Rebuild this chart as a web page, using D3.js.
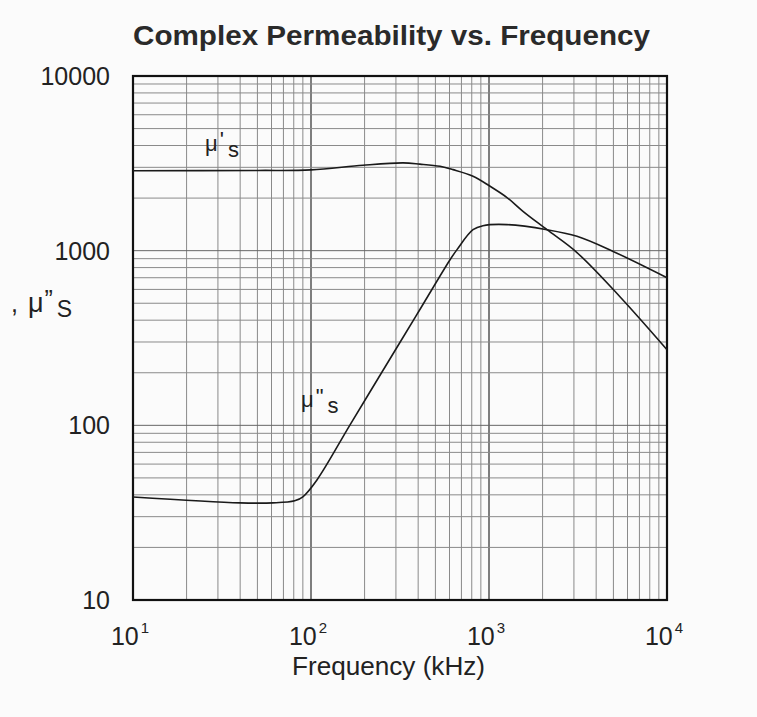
<!DOCTYPE html>
<html><head><meta charset="utf-8">
<script src="https://cdn.jsdelivr.net/npm/d3@7"></script>
<style>
html,body{margin:0;padding:0;background:#fbfbfb;}
svg{display:block;font-family:Arial,"Liberation Sans",sans-serif;}
</style></head>
<body><svg id="c" width="757" height="717"></svg>
<script>
// ---- data ----
const titleText = "Complex Permeability vs. Frequency";
const xLabelText = "Frequency (kHz)";
const xTickExponents = [1, 2, 3, 4];
const yTickValues = [10, 100, 1000, 10000];
const freqReal = [10, 50, 100, 196, 329, 409, 531, 628, 813, 1014, 1262, 1552, 2118, 3120, 5440, 10000];
const muReal   = [2870, 2880, 2900, 3085, 3180, 3130, 3040, 2910, 2667, 2337, 2015, 1680, 1318, 975, 545, 271];
const freqImag = [10, 40, 61, 81, 90, 108, 166, 255, 393, 604, 661, 813, 925, 1262, 2118, 3120, 4980, 10000];
const muImag   = [38.9, 36, 36, 37, 39, 48.7, 101, 208, 430, 887, 1014, 1318, 1390, 1410, 1318, 1208, 990, 700];

// ---- layout ----
const L = 133, R = 667, T = 76, B = 600;
const svg = d3.select("#c");
const x = d3.scaleLog().domain([10, 10000]).range([L, R]);
const y = d3.scaleLog().domain([10, 10000]).range([B, T]);

// grid
const gridVals = [];
[10, 100, 1000].forEach(d => { for (let k = 1; k <= 9; k++) gridVals.push(d * k); });
gridVals.push(10000);
const isMajor = d => Math.abs(Math.log10(d) - Math.round(Math.log10(d))) < 1e-9;
const g = svg.append("g");
g.selectAll("line.v").data(gridVals).enter().append("line")
  .attr("x1", d => x(d)).attr("x2", d => x(d)).attr("y1", T).attr("y2", B)
  .attr("stroke", d => isMajor(d) ? "#555" : "#8a8a8a")
  .attr("stroke-width", d => isMajor(d) ? 1.5 : 1);
g.selectAll("line.h").data(gridVals).enter().append("line")
  .attr("y1", d => y(d)).attr("y2", d => y(d)).attr("x1", L).attr("x2", R)
  .attr("stroke", d => isMajor(d) ? "#666" : "#8a8a8a")
  .attr("stroke-width", 1);

// frame
svg.append("rect").attr("x", L).attr("y", T).attr("width", R - L).attr("height", B - T)
  .attr("fill", "none").attr("stroke", "#111").attr("stroke-width", 2.2);

// curves
const line = d3.line().curve(d3.curveCatmullRom.alpha(0.5));
svg.append("path").attr("d", line(freqReal.map((f, i) => [x(f), y(muReal[i])])))
  .attr("fill", "none").attr("stroke", "#1a1a1a").attr("stroke-width", 1.6);
svg.append("path").attr("d", line(freqImag.map((f, i) => [x(f), y(muImag[i])])))
  .attr("fill", "none").attr("stroke", "#1a1a1a").attr("stroke-width", 1.6);

// title
svg.append("text").attr("x", 133).attr("y", 45)
  .attr("textLength", 517).attr("lengthAdjust", "spacingAndGlyphs")
  .attr("font-size", 27).attr("font-weight", "bold").attr("fill", "#2a2a2a").text(titleText);

// y tick labels
svg.selectAll("text.yt").data(yTickValues).enter().append("text")
  .attr("x", 110).attr("y", d => y(d)).attr("dy", "0.36em").attr("text-anchor", "end")
  .attr("font-size", 25).attr("fill", "#222").text(d => d);

// x tick labels
xTickExponents.forEach(e => {
  const t = svg.append("text").attr("x", x(Math.pow(10, e)) - 3).attr("y", 645)
    .attr("text-anchor", "middle").attr("font-size", 25).attr("fill", "#222");
  t.append("tspan").text("10");
  t.append("tspan").attr("dx", 2).attr("dy", -12).attr("font-size", 15).text(e);
});

// x label
svg.append("text").attr("x", 292).attr("y", 675)
  .attr("textLength", 193).attr("lengthAdjust", "spacingAndGlyphs")
  .attr("font-size", 25).attr("fill", "#222").text(xLabelText);

// y label (cropped at page edge)
const yl = svg.append("text").attr("x", 11).attr("y", 312).attr("font-size", 25).attr("fill", "#222");
yl.append("tspan").text(",");
yl.append("tspan").attr("dx", 10).attr("font-size", 27).text("\u03bc");
yl.append("tspan").attr("dx", 1).attr("dy", -4).text("\u201d");
yl.append("tspan").attr("dx", 4).attr("dy", 9).attr("font-size", 23).text("S");

// curve labels
const l1 = svg.append("text").attr("x", 205).attr("y", 151).attr("font-size", 22).attr("fill", "#222");
l1.append("tspan").text("\u03bc");
l1.append("tspan").attr("dx", 2).attr("dy", -4).text("'");
l1.append("tspan").attr("dx", 4).attr("dy", 10).text("s");
const l2 = svg.append("text").attr("x", 301).attr("y", 407).attr("font-size", 22).attr("fill", "#222");
l2.append("tspan").text("\u03bc");
l2.append("tspan").attr("dx", 2).attr("dy", -3).text("\"");
l2.append("tspan").attr("dx", 4).attr("dy", 9).text("s");
</script></body></html>
